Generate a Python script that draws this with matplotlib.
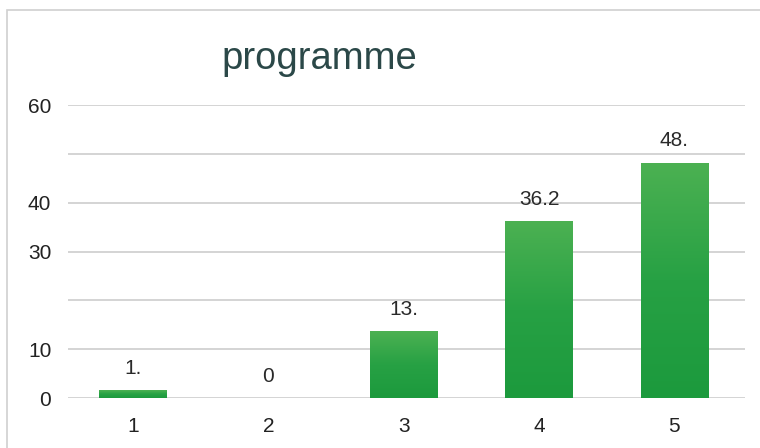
"""Bar chart: programme."""
import matplotlib
matplotlib.use("Agg")
import matplotlib.pyplot as plt
import numpy as np
from matplotlib.patches import Rectangle

categories = ["1", "2", "3", "4", "5"]
values = [1.6, 0, 13.7, 36.2, 48.2]
bar_labels = ["1.", "0", "13.", "36.2", "48."]
grid_levels = [0, 10, 20, 30, 40, 50, 60]
ytick_shown = [0, 10, 30, 40, 60]

plt.rcParams["font.family"] = ["Liberation Sans", "DejaVu Sans"]

fig = plt.figure(figsize=(7.6, 4.48), dpi=100)
ax = fig.add_axes([0.0895, 0.1116, 0.8905, 0.654])

x = np.arange(1, len(categories) + 1)
bars = ax.bar(x, values, width=0.5, color="#28a145", zorder=2)

# vertical gradient inside each bar, a bit lighter at the top
grad = np.linspace(0, 1, 256).reshape(-1, 1)
cmap = matplotlib.colors.LinearSegmentedColormap.from_list("g", ["#1c9a3d", "#27a144", "#4cb152"])
for bar in bars:
    h = bar.get_height()
    if h <= 0:
        continue
    x0 = bar.get_x()
    im = ax.imshow(grad, extent=[x0, x0 + bar.get_width(), 0, h], origin="lower",
                   cmap=cmap, aspect="auto", zorder=3)
    im.set_clip_path(bar)

for xi, v, lab in zip(x, values, bar_labels):
    ax.text(xi, v + 2.5, lab, ha="center", va="bottom", fontsize=15, color="#2a2a2a", zorder=4)

for lvl in grid_levels:
    ax.axhline(lvl, color="#c9c9c9", linewidth=1.1, zorder=1)

ax.set_xlim(0.52, 5.52)
ax.set_ylim(0, 60)
ax.set_xticks(x)
ax.set_xticklabels(categories, fontsize=15, color="#222222")
ax.set_yticks(ytick_shown)
ax.set_yticklabels([str(t) for t in ytick_shown], fontsize=15, color="#222222")
ax.tick_params(length=0)
ax.tick_params(axis="x", pad=14)
ax.tick_params(axis="y", pad=12)
for s in ax.spines.values():
    s.set_visible(False)

fig.text(0.42, 0.868, "programme", ha="center", va="center", fontsize=27.5, color="#2b4848")

# light frame from the chart area
fig.patches.append(Rectangle((0.009, -0.05), 1.05, 1.027, transform=fig.transFigure,
                             fill=False, edgecolor="#d0d0d0", linewidth=1.2))

plt.savefig("out.png", dpi=100)
plt.close()
